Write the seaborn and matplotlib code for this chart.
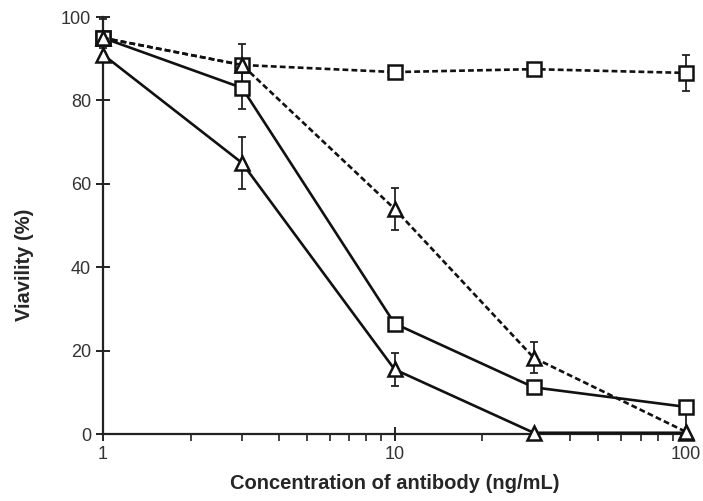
import matplotlib
matplotlib.use("Agg")
import matplotlib.pyplot as plt
import matplotlib.ticker as mticker
import numpy as np
import pandas as pd
import seaborn as sns

# Antibody concentrations (ng/mL)
conc = [1, 3, 10, 30, 100]

# Viability (%) for each treatment, with lower / upper error
sq_solid = [95.0, 83.0, 26.5, 11.2, 6.5]
sq_solid_lo = [1.5, 5.0, 1.0, 1.5, 6.0]
sq_solid_hi = [1.5, 5.0, 1.0, 1.5, 0.0]
tri_solid = [91.0, 65.0, 15.5, 0.3, 0.3]
tri_solid_lo = [1.5, 6.2, 4.0, 0.5, 0.5]
tri_solid_hi = [1.5, 6.2, 4.0, 0.5, 0.5]
sq_dash = [95.0, 88.5, 86.8, 87.5, 86.6]
sq_dash_lo = [4.5, 5.0, 1.0, 1.0, 4.4]
sq_dash_hi = [4.5, 5.0, 1.0, 1.0, 4.4]
tri_dash = [95.0, 88.5, 54.0, 18.3, 0.5]
tri_dash_lo = [1.5, 1.5, 5.0, 3.7, 0.5]
tri_dash_hi = [1.5, 1.5, 5.0, 3.7, 0.5]

y_ticks = [0, 20, 40, 60, 80, 100]
x_ticks = [1, 10, 100]

series = {
    "sq_solid": (sq_solid, sq_solid_lo, sq_solid_hi),
    "tri_solid": (tri_solid, tri_solid_lo, tri_solid_hi),
    "sq_dash": (sq_dash, sq_dash_lo, sq_dash_hi),
    "tri_dash": (tri_dash, tri_dash_lo, tri_dash_hi),
}

rows = []
for name, (vals, lo, hi) in series.items():
    for c, v, l, h in zip(conc, vals, lo, hi):
        rows.append({"conc": c, "viability": v, "lo": l, "hi": h, "group": name})
df = pd.DataFrame(rows)

sns.set_style("ticks")
plt.rcParams["font.family"] = ["Liberation Sans", "DejaVu Sans"]

fig = plt.figure(figsize=(7.03, 5.01), dpi=100)
ax = fig.add_axes([0.1465, 0.1337, 0.8295, 0.8323])

markers = {"sq_solid": "s", "tri_solid": "^", "sq_dash": "s", "tri_dash": "^"}
dashes = {"sq_solid": "", "tri_solid": "", "sq_dash": (2.2, 1.2), "tri_dash": (2.2, 1.2)}

# error bars first so the white-filled markers sit on top
for name, g in df.groupby("group"):
    ax.errorbar(g["conc"], g["viability"], yerr=[g["lo"], g["hi"]], fmt="none",
                ecolor="#222222", elinewidth=1.3, capsize=3, capthick=1.3, zorder=2)

sns.lineplot(data=df, x="conc", y="viability", hue="group", style="group",
             markers=markers, dashes=dashes,
             palette={k: "#111111" for k in series}, linewidth=1.9,
             markersize=10, markerfacecolor="white", markeredgecolor="#111111",
             markeredgewidth=1.8, legend=False, ax=ax, zorder=3)

ax.set_xscale("log")
ax.set_xlim(1, 100)
ax.set_ylim(0, 100)
ax.set_yticks(y_ticks)
ax.set_xticks(x_ticks)
ax.xaxis.set_major_formatter(mticker.FuncFormatter(lambda v, p: f"{v:g}"))
ax.xaxis.set_minor_locator(mticker.LogLocator(base=10, subs=np.arange(2, 10)))
ax.xaxis.set_minor_formatter(mticker.NullFormatter())

for s in ["top", "right"]:
    ax.spines[s].set_visible(False)
for s in ["left", "bottom"]:
    ax.spines[s].set_linewidth(1.6)
    ax.spines[s].set_color("#222222")
ax.spines["left"].set_zorder(1)

ax.tick_params(axis="both", which="major", direction="inout", length=10, width=1.4,
               labelsize=13, colors="#222222", labelcolor="#333333")
ax.tick_params(axis="x", which="minor", direction="out", length=5, width=1.2, colors="#222222")
for ln in ax.lines:
    ln.set_clip_on(False)
for coll in ax.collections:
    coll.set_clip_on(False)

ax.set_xlabel("Concentration of antibody (ng/mL)", fontsize=14.5, fontweight="bold", labelpad=8)
ax.set_ylabel("Viavility (%)", fontsize=14.5, fontweight="bold")
ax.yaxis.set_label_coords(-0.118, 0.405)

fig.savefig("out.png", dpi=100)
